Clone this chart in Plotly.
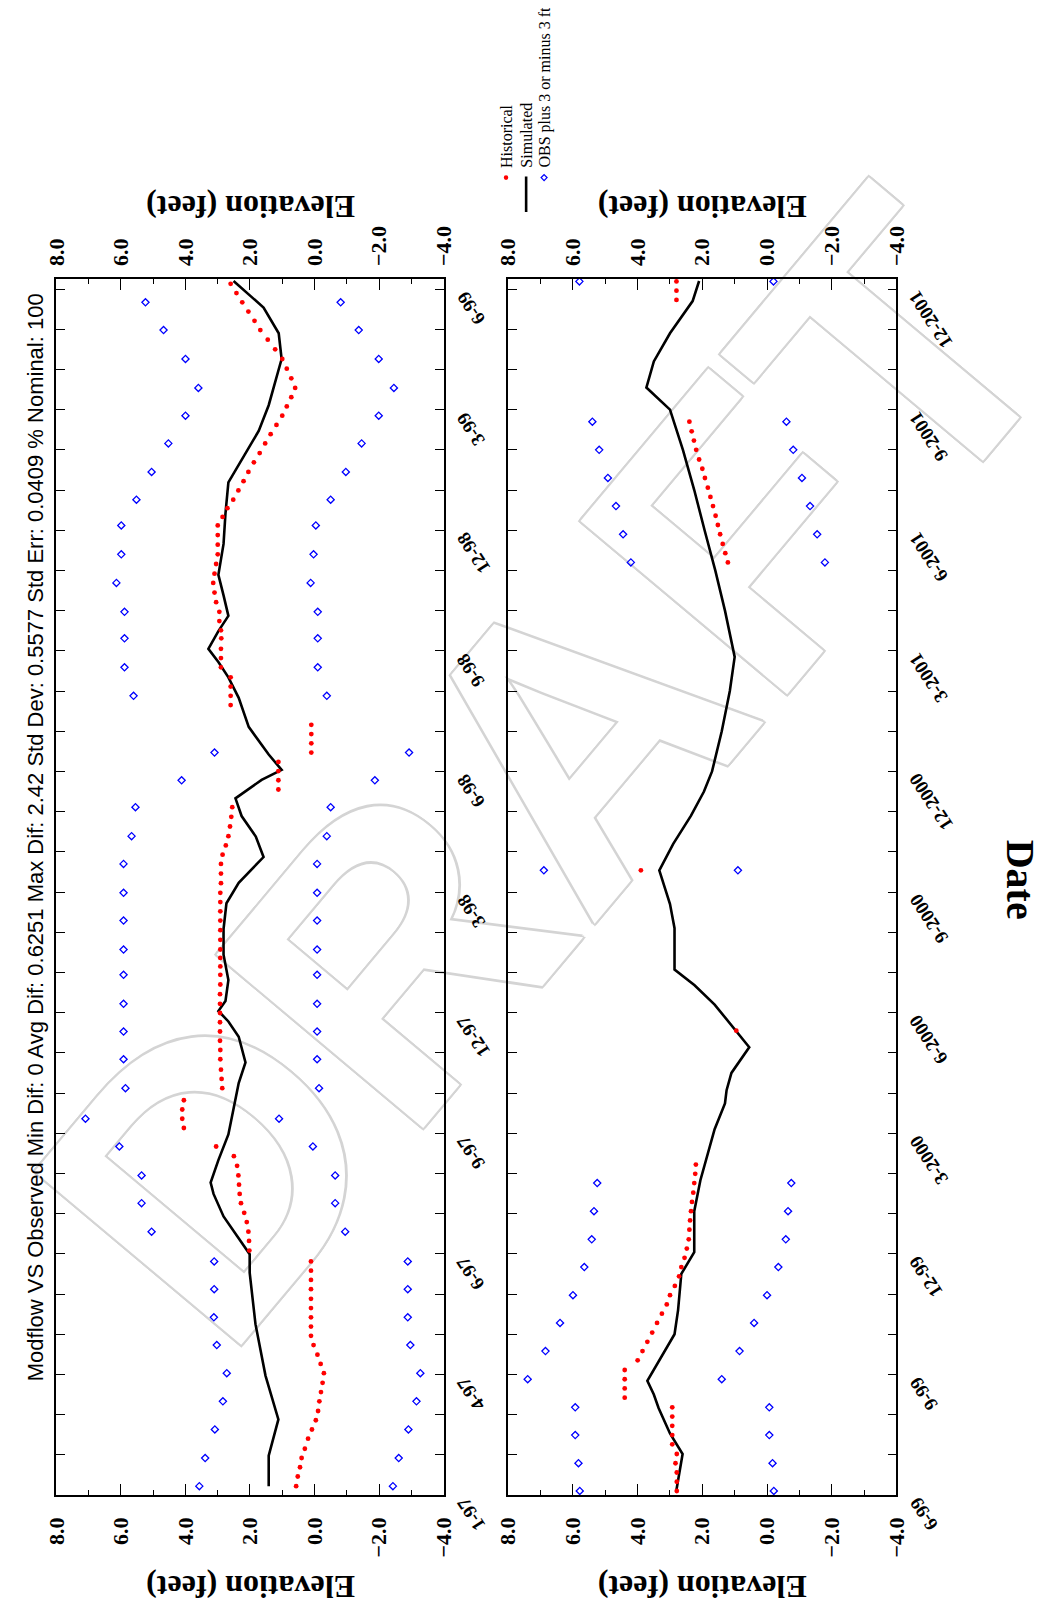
import plotly.graph_objects as go

# page is drawn with an 8px body margin: screen coords -> figure coords
OFF = 8
W, H = 1046 - OFF, 1610 - OFF

# ---------------- data (months from panel start, elevation in feet) ----------------
# top panel (1-97 .. 6-99)
top_sim_m = [0.22, 0.98, 1.88, 2.97, 4.25, 5.53, 5.99, 6.42, 6.93, 7.49, 7.77, 8.33, 8.97, 9.61, 10.25,
             10.76, 11.40, 11.78, 12.04, 12.29, 12.81, 13.44, 14.08, 14.72, 15.23, 15.87, 16.38, 16.89,
             17.33, 17.79, 18.04, 18.42, 19.11, 19.83, 20.34, 20.72, 21.05, 21.49, 21.87, 22.38, 22.89,
             23.66, 24.42, 25.19, 25.83, 26.47, 27.11, 27.75, 28.26, 28.90, 29.54, 30.20]
top_sim_v = [1.42, 1.42, 1.12, 1.52, 1.83, 2.01, 2.01, 2.38, 2.82, 3.13, 3.22, 2.98, 2.67, 2.51, 2.35,
             2.14, 2.35, 2.67, 2.98, 2.76, 2.67, 2.82, 2.82, 2.73, 2.35, 1.58, 1.82, 2.26,
             2.45, 1.64, 1.02, 1.42, 2.04, 2.35, 2.67, 2.98, 3.29, 2.98, 2.67, 2.82, 2.98,
             2.82, 2.76, 2.67, 2.20, 1.73, 1.42, 1.20, 1.02, 1.11, 1.58, 2.51]

top_hist_m = [0.22, 0.46, 0.69, 0.92, 1.15, 1.40, 1.63, 1.86, 2.09, 2.33, 2.56, 2.79, 3.03, 3.26, 3.49,
              3.73, 3.96, 4.19, 4.42, 4.65, 4.88, 5.12, 5.35, 5.58, 5.81,
              6.08, 6.32, 6.55, 6.79, 7.02, 7.26, 7.49, 7.72, 7.95, 8.19, 8.43, 8.67,
              9.13, 9.36, 9.59, 9.82,
              10.12, 10.35, 10.58, 10.84, 11.07, 11.30, 11.53, 11.76, 11.99, 12.22, 12.46, 12.70, 12.94,
              13.15, 13.36, 13.57, 13.81, 14.05, 14.29, 14.52, 14.75, 14.98, 15.22, 15.46, 15.70, 15.93,
              16.16, 16.39, 16.63, 16.87, 17.11,
              17.55, 17.78, 18.01, 18.24,
              18.47, 18.70, 18.93, 19.16,
              19.65, 19.88, 20.11, 20.34,
              20.59, 20.82, 21.05, 21.31, 21.51, 21.74, 21.97, 22.21, 22.45, 22.69, 22.92, 23.16, 23.40,
              23.64, 23.88, 24.12, 24.33, 24.55, 24.76, 24.99, 25.22, 25.45, 25.69, 25.92, 26.16, 26.39,
              26.62, 26.85, 27.08, 27.31, 27.54, 27.78, 28.02, 28.26, 28.50, 28.74, 28.98, 29.21, 29.44,
              29.67, 29.90, 30.13]
top_hist_v = [0.57, 0.52, 0.45, 0.40, 0.30, 0.20, 0.08, -0.04, -0.11, -0.15, -0.20, -0.25, -0.29, -0.19, -0.09,
              0.03, 0.11, 0.11, 0.11, 0.11, 0.11, 0.11, 0.11, 0.11, 0.11,
              2.02, 2.03, 2.05, 2.10, 2.18, 2.28, 2.32, 2.34, 2.36, 2.40, 2.50, 3.05,
              4.05, 4.10, 4.10, 4.05,
              2.86, 2.88, 2.90, 2.92, 2.92, 2.93, 2.93, 2.93, 2.93, 2.93, 2.93, 2.92, 2.92,
              2.92, 2.92, 2.92, 2.92, 2.92, 2.92, 2.92, 2.92, 2.92, 2.90, 2.90, 2.90, 2.85,
              2.75, 2.67, 2.62, 2.58, 2.55,
              1.12, 1.12, 1.12, 1.12,
              0.10, 0.10, 0.10, 0.10,
              2.60, 2.60, 2.60, 2.60,
              2.90, 2.90, 2.90, 2.89, 2.90, 2.95, 2.95, 3.05, 3.10, 3.14, 3.10, 3.05, 3.00,
              3.00, 3.00, 3.00, 2.85, 2.70, 2.52, 2.36, 2.20, 2.05, 1.88, 1.70, 1.53, 1.36,
              1.18, 1.00, 0.86, 0.72, 0.60, 0.72, 0.86, 1.00, 1.22, 1.45, 1.68, 1.86, 2.05,
              2.24, 2.42, 2.60]

top_obs_m = [0.22, 0.92, 1.63, 2.33, 3.03, 3.73, 4.42, 5.12, 5.81,
             6.55, 7.26, 7.95, 8.67, 9.36, 10.12,
             10.84, 11.53, 12.22, 12.94, 13.57, 14.29, 14.98, 15.70,
             16.39, 17.11, 17.78, 18.47,
             19.88, 20.59, 21.31, 21.97, 22.69, 23.40, 24.12, 24.76, 25.45, 26.16, 26.85, 27.54, 28.26,
             28.98, 29.67]
top_obs_plus = [3.57, 3.39, 3.09, 2.84, 2.72, 3.03, 3.12, 3.11, 3.11,
                5.05, 5.36, 5.36, 6.05, 7.10, 5.86,
                5.92, 5.92, 5.92, 5.92, 5.92, 5.92, 5.92, 5.92,
                5.67, 5.55, 4.12, 3.10,
                5.61, 5.89, 5.89, 5.89, 6.14, 5.99, 5.99, 5.52, 5.05, 4.53, 4.00, 3.60, 4.00,
                4.68, 5.24]
top_obs_minus = [-2.43, -2.61, -2.91, -3.16, -3.28, -2.97, -2.89, -2.89, -2.89,
                 -0.95, -0.64, -0.64, 0.05, 1.10, -0.14,
                 -0.08, -0.08, -0.08, -0.08, -0.08, -0.08, -0.08, -0.08,
                 -0.38, -0.50, -1.87, -2.93,
                 -0.38, -0.10, -0.10, -0.10, 0.12, 0.03, -0.04, -0.50, -0.97, -1.46, -1.99, -2.46, -1.99,
                 -1.37, -0.81]

# bottom panel (6-99 .. 12-2001)
bot_sim_m = [0.08, 0.55, 1.02, 1.53, 2.16, 2.50, 2.84, 4.00, 4.60, 5.50, 6.04, 7.06, 7.83, 9.10, 9.74,
             10.07, 10.50, 11.14, 11.53, 12.20, 12.68, 13.07, 14.10, 14.70, 15.54, 16.20, 16.90, 17.50,
             18.00, 19.00, 20.00, 20.85, 22.00, 23.00, 24.00, 25.00, 26.00, 27.00, 27.55, 28.20,
             28.90, 29.70, 30.20]
bot_sim_v = [2.81, 2.71, 2.61, 3.00, 3.35, 3.50, 3.70, 2.86, 2.75, 2.65, 2.25, 2.25, 2.06, 1.62, 1.30,
             1.25, 1.10, 0.55, 0.95, 1.62, 2.24, 2.86, 2.86, 3.00, 3.33, 2.90, 2.35, 1.95,
             1.70, 1.40, 1.15, 1.00, 1.30, 1.60, 1.93, 2.25, 2.60, 3.00, 3.73, 3.50,
             3.00, 2.30, 2.10]

bot_hist_m = [0.10, 0.33, 0.56, 0.79, 1.02, 1.26, 1.49, 1.72, 1.95, 2.18,
              2.42, 2.65, 2.88, 3.11,
              3.35, 3.58, 3.81, 4.04, 4.28, 4.51, 4.74, 4.97, 5.20, 5.44, 5.67, 5.90, 6.13, 6.36,
              6.60, 6.83, 7.06, 7.29, 7.52, 7.76, 7.99, 8.22,
              11.55, 15.54,
              23.20, 23.43, 23.66, 23.90, 24.13, 24.36, 24.60, 24.83, 25.06, 25.30, 25.53, 25.76,
              26.00, 26.23, 26.46, 26.70,
              29.73, 29.96, 30.19]
bot_hist_v = [2.79, 2.79, 2.79, 2.83, 2.79, 2.93, 2.93, 2.93, 2.93, 2.93,
              4.40, 4.40, 4.40, 4.40,
              4.00, 3.85, 3.70, 3.55, 3.40, 3.25, 3.10, 3.00, 2.85, 2.72, 2.65, 2.55, 2.48, 2.42,
              2.40, 2.38, 2.35, 2.32, 2.28, 2.25, 2.22, 2.20,
              0.95, 3.90,
              1.21, 1.29, 1.37, 1.45, 1.52, 1.59, 1.67, 1.75, 1.83, 1.92, 2.00, 2.10,
              2.19, 2.26, 2.33, 2.40,
              2.80, 2.80, 2.80]

bot_obs_m = [0.10, 0.79, 1.49, 2.18, 2.88, 3.58, 4.28, 4.97, 5.67, 6.36, 7.06, 7.76, 15.54,
             23.20, 23.90, 24.60, 25.30, 26.00, 26.70, 30.19]
bot_obs_plus = [5.79, 5.83, 5.93, 5.93, 7.40, 6.85, 6.40, 6.00, 5.65, 5.42, 5.35, 5.25, 6.90,
                4.21, 4.45, 4.67, 4.92, 5.19, 5.40, 5.80]
bot_obs_minus = [-0.21, -0.17, -0.07, -0.07, 1.40, 0.85, 0.40, 0.00, -0.35, -0.58, -0.65, -0.75, 0.90,
                 -1.79, -1.55, -1.33, -1.08, -0.81, -0.60, -0.20]

# axis ticks and labels
elev_ticks = [8, 6, 4, 2, 0, -2, -4]
elev_text = ["8.0", "6.0", "4.0", "2.0", "0.0", "\u22122.0", "\u22124.0"]
date_ticks = [0, 3, 6, 9, 12, 15, 18, 21, 24, 27, 30]
top_date_text = ["1-97", "4-97", "6-97", "9-97", "12-97", "3-98", "6-98", "9-98", "12-98", "3-99", "6-99"]
bot_date_text = ["6-99", "9-99", "12-99", "3-2000", "6-2000", "9-2000", "12-2000", "3-2001", "6-2001",
                 "9-2001", "12-2001"]

title_text = ("Modflow VS Observed Min Dif: 0 Avg Dif: 0.6251 Max Dif: 2.42 Std Dev: 0.5577 "
              "Std Err: 0.0409 % Nominal: 100")
legend_text = ["Historical", "Simulated", "OBS plus 3 or minus 3 ft"]

# ---------------- layout geometry (screen pixels) ----------------
TOP_X = (44.3, 441.0)
BOT_X = (507.3, 905.0)
PY = (279.0, 1495.0)
M_RANGE = [0, 30.25]


def px(xs):
    return (xs - OFF) / W


def py(ys):
    return 1 - (ys - OFF) / H


SERIF = "Liberation Serif"
SANS = "Liberation Sans"
RED = "#ff0000"
BLUE = "#0000ff"

fig = go.Figure()


def add_panel(xa, ya, sim_v, sim_m, hist_v, hist_m, obs_m, obs_p, obs_n):
    fig.add_trace(go.Scatter(x=sim_v, y=sim_m, mode="lines", line=dict(color="black", width=2.6),
                             xaxis=xa, yaxis=ya, showlegend=False, hoverinfo="skip"))
    fig.add_trace(go.Scatter(x=hist_v, y=hist_m, mode="markers",
                             marker=dict(symbol="circle", size=4.8, color=RED),
                             xaxis=xa, yaxis=ya, showlegend=False, hoverinfo="skip"))
    for vals in (obs_p, obs_n):
        fig.add_trace(go.Scatter(x=vals, y=obs_m, mode="markers",
                                 marker=dict(symbol="diamond-open", size=5.5, color=BLUE,
                                             line=dict(width=1.3, color=BLUE)),
                                 xaxis=xa, yaxis=ya, showlegend=False, hoverinfo="skip"))


add_panel("x", "y", top_sim_v, top_sim_m, top_hist_v, top_hist_m, top_obs_m, top_obs_plus, top_obs_minus)
add_panel("x2", "y2", bot_sim_v, bot_sim_m, bot_hist_v, bot_hist_m, bot_obs_m, bot_obs_plus, bot_obs_minus)
# carriers for the mirrored (top side) elevation axes
fig.add_trace(go.Scatter(x=[8, -4], y=[0, 0], mode="none", xaxis="x3", yaxis="y", showlegend=False,
                         hoverinfo="skip"))
fig.add_trace(go.Scatter(x=[8, -4], y=[0, 0], mode="none", xaxis="x4", yaxis="y2", showlegend=False,
                         hoverinfo="skip"))

tickfont = dict(family=SERIF, size=22, color="black", weight="bold")


def xaxis_cfg(domain, anchor, side, overlay=None):
    d = dict(domain=[px(domain[0]), px(domain[1])], anchor=anchor, range=[8, -4], side=side,
             tickmode="array", tickvals=elev_ticks, ticktext=elev_text, tickangle=-90,
             tickfont=tickfont, ticklabelstandoff=12, showgrid=False, zeroline=False, fixedrange=True)
    if overlay is None:
        d.update(showline=True, linecolor="black", linewidth=1.5, mirror="allticks",
                 ticks="inside", ticklen=11, tickwidth=1.3, tickcolor="black",
                 minor=dict(dtick=1, tick0=0, ticks="inside", ticklen=5, tickwidth=1.3, tickcolor="black"))
    else:
        d.update(overlaying=overlay, showline=False, ticks="")
    return d


def yaxis_cfg(xanchor):
    return dict(domain=[py(PY[1]), py(PY[0])], anchor=xanchor, range=M_RANGE,
                tickmode="array", tickvals=date_ticks, showticklabels=False,
                showline=True, linecolor="black", linewidth=1.5, mirror="allticks",
                ticks="inside", ticklen=9, tickwidth=1.3, tickcolor="black",
                minor=dict(dtick=1, tick0=0, ticks="inside", ticklen=5, tickwidth=1.3, tickcolor="black"),
                showgrid=False, zeroline=False, fixedrange=True)


fig.update_layout(
    width=W, height=H, margin=dict(l=0, r=0, t=0, b=0),
    paper_bgcolor="white", plot_bgcolor="white", showlegend=False,
    xaxis=xaxis_cfg(TOP_X, "y", "bottom"),
    xaxis3=xaxis_cfg(TOP_X, "y", "top", overlay="x"),
    xaxis2=xaxis_cfg(BOT_X, "y2", "bottom"),
    xaxis4=xaxis_cfg(BOT_X, "y2", "top", overlay="x2"),
    yaxis=yaxis_cfg("x"),
    yaxis2=yaxis_cfg("x2"),
)

ann = []
# date tick labels (slanted, upside down) on the right of each panel
for xr, yref, labels in ((TOP_X, "y", top_date_text), (BOT_X, "y2", bot_date_text)):
    for t, lab in zip(date_ticks, labels):
        ann.append(dict(x=px(xr[1]), y=t, xref="paper", yref=yref, text=lab, showarrow=False,
                        xanchor="left", yanchor="top", xshift=6, yshift=4, textangle=-123,
                        font=dict(family=SERIF, size=19, color="black", weight="bold")))

# axis titles
for xr in (TOP_X, BOT_X):
    cx = px((xr[0] + xr[1]) / 2)
    for yy in (207.5, 1587):
        ann.append(dict(x=cx, y=py(yy), xref="paper", yref="paper", text="Elevation (feet)",
                        showarrow=False, textangle=180, xanchor="center", yanchor="middle",
                        font=dict(family=SERIF, size=32, color="black", weight="bold")))
ann.append(dict(x=px(1033), y=py(880), xref="paper", yref="paper", text="Date", showarrow=False,
                textangle=90, xanchor="center", yanchor="middle",
                font=dict(family=SERIF, size=40, color="black", weight="bold")))
ann.append(dict(x=px(22.6), y=py(837), xref="paper", yref="paper", text=title_text, showarrow=False,
                textangle=-90, xanchor="center", yanchor="middle",
                font=dict(family=SANS, size=22, color="black")))

# legend
leg_x = [505, 525.6, 544]
for lx, lt in zip(leg_x, legend_text):
    ann.append(dict(x=px(lx), y=py(170), xref="paper", yref="paper", text=lt, showarrow=False,
                    textangle=-90, xanchor="center", yanchor="bottom",
                    font=dict(family=SERIF, size=16, color="black")))

fig.update_layout(annotations=ann)

shapes = []
# legend symbols
r = 2.3
shapes.append(dict(type="circle", xref="paper", yref="paper", x0=px(505 - r), x1=px(505 + r),
                   y0=py(177.6 + r), y1=py(177.6 - r), fillcolor=RED, line=dict(width=0)))
shapes.append(dict(type="line", xref="paper", yref="paper", x0=px(525.6), x1=px(525.6),
                   y0=py(176.5), y1=py(212), line=dict(color="black", width=2.6)))
d = 3.0
cx, cy = 544, 177.6
shapes.append(dict(type="path", xref="paper", yref="paper",
                   path=f"M {px(cx)},{py(cy - d)} L {px(cx + d)},{py(cy)} L {px(cx)},{py(cy + d)} "
                        f"L {px(cx - d)},{py(cy)} Z",
                   line=dict(color=BLUE, width=1.3), fillcolor="rgba(0,0,0,0)"))

# DRAFT watermark
wc = (518, 745)
shapes.append(dict(type="line", xref="paper", yref="paper", layer="below",
                   x0=px(wc[0] - 193), y0=py(wc[1] + 230), x1=px(wc[0] + 193), y1=py(wc[1] - 230),
                   line=dict(color="rgba(0,0,0,0)", width=0),
                   label=dict(text="DRAFT", textangle=-50, textposition="middle", yanchor="middle",
                              padding=0,
                              font=dict(family=SANS, size=392, color="white", weight="bold",
                                        shadow="-2px -2px 0 #d4d4d4, 2px -2px 0 #d4d4d4, -2px 2px 0 #d4d4d4, "
                                               "2px 2px 0 #d4d4d4, 0 2px 0 #d4d4d4, 0 -2px 0 #d4d4d4, "
                                               "2px 0 0 #d4d4d4, -2px 0 0 #d4d4d4"))))
fig.update_layout(shapes=shapes)

fig.write_html("out.html")
